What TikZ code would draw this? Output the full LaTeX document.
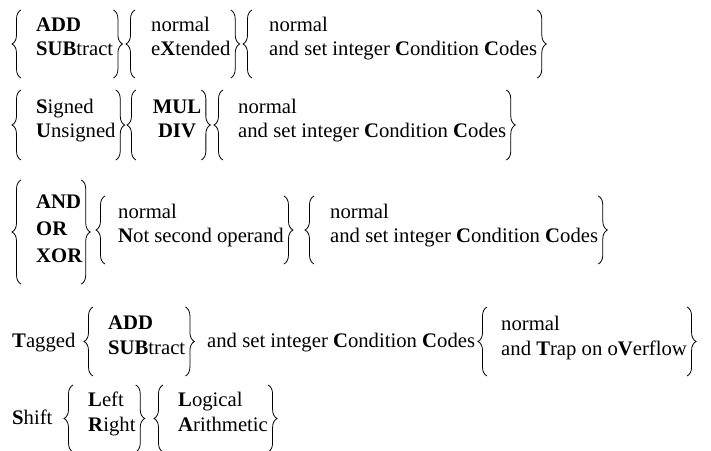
\documentclass[tikz,border=0pt]{standalone}
\usepackage{fontspec}
\setmainfont{Liberation Serif}
\usetikzlibrary{decorations.pathreplacing}
\begin{document}
\begin{tikzpicture}[x=1pt,y=-1pt,
  txt/.style={anchor=base west, inner sep=0pt, font=\fontsize{20.7}{25}\selectfont},
  ctxt/.style={anchor=base, inner sep=0pt, font=\fontsize{20.7}{25}\selectfont},
  brc/.style={decorate, decoration={brace, amplitude=9pt}, line width=0.8pt}]
\useasboundingbox (0,0) rectangle (711,450);
% ---------- row 1
\coordinate (r1t) at (0,10); \coordinate (r1b) at (0,78);
\node[txt] (add1) at (36,31) {\textbf{ADD}};
\node[txt] (sub1) at (36,55) {\textbf{SUB}tract};
\node[txt] (nor1) at (151,31) {normal};
\node[txt] (ext1) at (151,55) {e\textbf{X}tended};
\node[txt] (nor1b) at (269,31) {normal};
\node[txt] (cc1) at (269,55) {and set integer \textbf{C}ondition \textbf{C}odes};
\draw[brc] (21,78) -- (21,10);
\draw[brc] (sub1.east |- r1t) -- (sub1.east |- r1b);
\draw[brc] (135,78) -- (135,10);
\draw[brc] (ext1.east |- r1t) -- (ext1.east |- r1b);
\draw[brc] (252,78) -- (252,10);
\draw[brc] (cc1.east |- r1t) -- (cc1.east |- r1b);
% ---------- row 2
\coordinate (r2t) at (0,90); \coordinate (r2b) at (0,160);
\node[txt] (sig2) at (36,113) {\textbf{S}igned};
\node[txt] (uns2) at (36,137) {\textbf{U}nsigned};
\node[ctxt] (mul2) at (177,113) {\textbf{MUL}};
\node[ctxt] (div2) at (177,137) {\textbf{DIV}};
\node[txt] (nor2) at (238,113) {normal};
\node[txt] (cc2) at (238,137) {and set integer \textbf{C}ondition \textbf{C}odes};
\draw[brc] (21,160) -- (21,90);
\draw[brc] (uns2.east |- r2t) -- (uns2.east |- r2b);
\draw[brc] (136,160) -- (136,90);
\draw[brc] (mul2.east |- r2t) -- (mul2.east |- r2b);
\draw[brc] (223,160) -- (223,90);
\draw[brc] (cc2.east |- r2t) -- (cc2.east |- r2b);
% ---------- row 3
\coordinate (r3t) at (0,180); \coordinate (r3b) at (0,284);
\coordinate (r3tt) at (0,196); \coordinate (r3bb) at (0,264);
\node[txt] (and3) at (36,208) {\textbf{AND}};
\node[txt] (or3) at (36,235) {\textbf{OR}};
\node[txt] (xor3) at (36,262) {\textbf{XOR}};
\node[txt] (nor3) at (118,218) {normal};
\node[txt] (not3) at (118,242) {\textbf{N}ot second operand};
\node[txt] (nor3b) at (330,218) {normal};
\node[txt] (cc3) at (330,242) {and set integer \textbf{C}ondition \textbf{C}odes};
\draw[brc] (21,284) -- (21,180);
\draw[brc] (and3.east |- r3t) -- (and3.east |- r3b);
\draw[brc] (105,264) -- (105,196);
\draw[brc] (not3.east |- r3tt) -- (not3.east |- r3bb);
\draw[brc] (314,264) -- (314,196);
\draw[brc] (cc3.east |- r3tt) -- (cc3.east |- r3bb);
% ---------- row 4
\coordinate (r4t) at (0,307); \coordinate (r4b) at (0,376);
\node[txt] (tag4) at (12,347) {\textbf{T}agged};
\node[txt] (add4) at (108,329) {\textbf{ADD}};
\node[txt] (sub4) at (108,354) {\textbf{SUB}tract};
\node[txt] (cc4) at (207,347) {and set integer \textbf{C}ondition \textbf{C}odes};
\node[txt] (nor4) at (501,330) {normal};
\node[txt] (trp4) at (501,355) {and \textbf{T}rap on o\textbf{V}erflow};
\draw[brc] (93,376) -- (93,307);
\draw[brc] (sub4.east |- r4t) -- (sub4.east |- r4b);
\draw[brc] (487,376) -- (487,307);
\draw[brc] (trp4.east |- r4t) -- (trp4.east |- r4b);
% ---------- row 5
\coordinate (r5t) at (0,385); \coordinate (r5b) at (0,452);
\node[txt] (shf5) at (12,424) {\textbf{S}hift};
\node[txt] (lft5) at (88,406) {\textbf{L}eft};
\node[txt] (rgt5) at (88,431) {\textbf{R}ight};
\node[txt] (log5) at (178,406) {\textbf{L}ogical};
\node[txt] (ari5) at (178,431) {\textbf{A}rithmetic};
\draw[brc] (73,452) -- (73,385);
\draw[brc] (rgt5.east |- r5t) -- (rgt5.east |- r5b);
\draw[brc] (163,452) -- (163,385);
\draw[brc] (ari5.east |- r5t) -- (ari5.east |- r5b);
\end{tikzpicture}
\end{document}
